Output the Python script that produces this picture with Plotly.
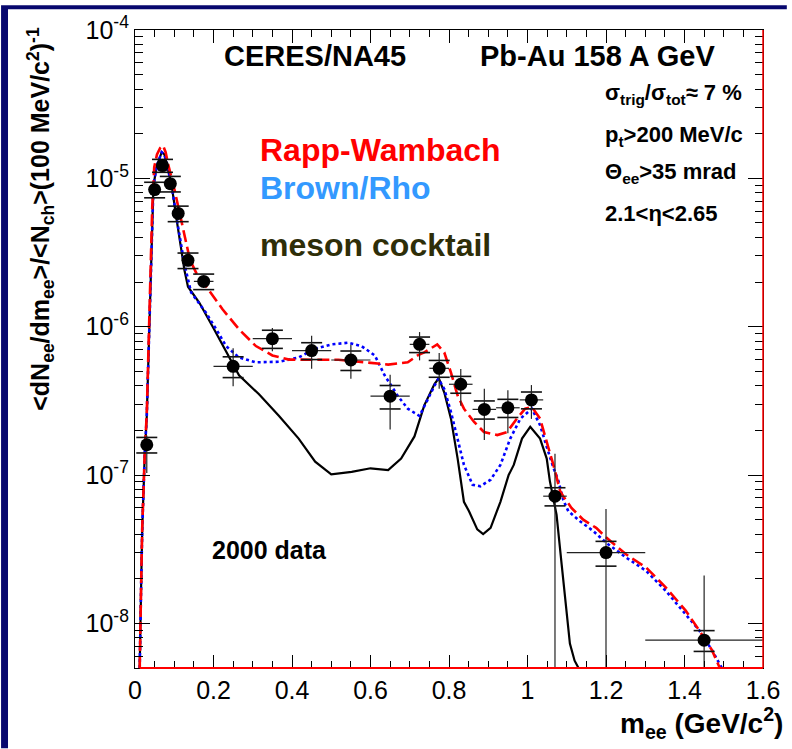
import plotly.graph_objects as go

# ---------------- data ----------------
mass = [0.03, 0.05, 0.07, 0.09, 0.11, 0.135, 0.175, 0.25, 0.35, 0.45, 0.55, 0.65,
        0.725, 0.775, 0.83, 0.89, 0.95, 1.01, 1.07, 1.2, 1.45]
bin_half = [0.01, 0.01, 0.01, 0.01, 0.01, 0.015, 0.025, 0.05, 0.05, 0.05, 0.05, 0.05,
            0.025, 0.025, 0.03, 0.03, 0.03, 0.03, 0.03, 0.1, 0.15]
yield_ee = [1.6e-7, 8.4e-6, 1.22e-5, 9.2e-6, 5.8e-6, 2.8e-6, 2.02e-6, 5.4e-7, 8.3e-7,
            6.9e-7, 5.96e-7, 3.4e-7, 7.6e-7, 5.24e-7, 4.09e-7, 2.77e-7, 2.84e-7,
            3.21e-7, 7.2e-8, 3.0e-8, 7.7e-9]
stat_up = [2.5e-8, 8e-7, 8e-7, 8e-7, 5e-7, 2.5e-7, 1.8e-7, 1.76e-7, 1.5e-7, 1.8e-7,
           1.6e-7, 1.34e-7, 1.6e-7, 1.4e-7, 1.1e-7, 1.04e-7, 8.9e-8, 8.3e-8, 6.7e-8,
           2.9e-8, 1.33e-8]
stat_dn = [5.7e-8, 8e-7, 8e-7, 8e-7, 5e-7, 2.5e-7, 1.8e-7, 1.43e-7, 1.47e-7, 1.7e-7,
           1.5e-7, 1.37e-7, 1.67e-7, 1.43e-7, 1.16e-7, 1.05e-7, 9.3e-8, 8.2e-8, 7.2e-8,
           3.0e-8, 7.7e-9]
sys_frac = [0.12, 0.12, 0.10, 0.12, 0.12, 0.12, 0.12, 0.16, 0.14, 0.13, 0.15, 0.18,
            0.12, 0.13, 0.13, 0.14, 0.14, 0.13, 0.14, 0.19, 0.16]

cocktail_m = [0.012, 0.0134, 0.016, 0.0185, 0.021, 0.025, 0.03, 0.034, 0.038, 0.040,
              0.044, 0.047, 0.055, 0.062, 0.068, 0.075, 0.084, 0.093, 0.105, 0.118,
              0.126, 0.135, 0.164, 0.198, 0.232, 0.265, 0.316, 0.367, 0.417, 0.459,
              0.50, 0.552, 0.60, 0.645, 0.678, 0.712, 0.737, 0.763, 0.774, 0.788,
              0.805, 0.822, 0.838, 0.851, 0.872, 0.887, 0.906, 0.931, 0.952, 0.965,
              0.986, 1.007, 1.032, 1.049, 1.057, 1.074, 1.087, 1.10, 1.108, 1.12, 1.13]
cocktail_y = [5.0e-9, 1.0e-8, 2.04e-8, 4.37e-8, 7.9e-8, 1.41e-7, 2.5e-7, 6.3e-7, 1.26e-6,
              2.5e-6, 6.0e-6, 8.9e-6, 1.2e-5, 1.38e-5, 1.5e-5, 1.45e-5, 1.17e-5, 9.1e-6,
              5.5e-6, 3.3e-6, 2.4e-6, 1.86e-6, 1.45e-6, 1.0e-6, 6.8e-7, 4.7e-7, 3.5e-7,
              2.5e-7, 1.76e-7, 1.23e-7, 1.01e-7, 1.05e-7, 1.11e-7, 1.08e-7, 1.29e-7,
              1.82e-7, 2.95e-7, 4.1e-7, 4.5e-7, 3.6e-7, 2.4e-7, 1.29e-7, 6.6e-8, 5.7e-8,
              4.3e-8, 4.0e-8, 4.4e-8, 6.6e-8, 1.0e-7, 1.17e-7, 1.76e-7, 2.11e-7, 1.76e-7,
              1.29e-7, 9.1e-8, 5.4e-8, 2.5e-8, 1.16e-8, 7.3e-9, 5.6e-9, 5.0e-9]

brown_m = [0.012, 0.0134, 0.016, 0.0185, 0.021, 0.025, 0.03, 0.034, 0.038, 0.040,
           0.044, 0.047, 0.055, 0.062, 0.068, 0.075, 0.084, 0.093, 0.105, 0.118,
           0.126, 0.143, 0.181, 0.207, 0.232, 0.265, 0.308, 0.367, 0.417, 0.459,
           0.501, 0.544, 0.577, 0.611, 0.636, 0.670, 0.695, 0.725, 0.746, 0.763,
           0.773, 0.788, 0.805, 0.822, 0.838, 0.86, 0.88, 0.906, 0.931, 0.956, 0.982,
           1.011, 1.032, 1.049, 1.066, 1.079, 1.091, 1.104, 1.133, 1.167, 1.20, 1.251,
           1.302, 1.352, 1.403, 1.437, 1.47, 1.487, 1.495]
brown_y = [5.0e-9, 1.0e-8, 2.04e-8, 4.37e-8, 7.9e-8, 1.41e-7, 2.5e-7, 6.3e-7, 1.26e-6,
           2.5e-6, 6.0e-6, 8.9e-6, 1.2e-5, 1.38e-5, 1.5e-5, 1.45e-5, 1.17e-5, 9.1e-6,
           5.6e-6, 3.39e-6, 2.63e-6, 1.70e-6, 1.24e-6, 9.6e-7, 7.4e-7, 6.2e-7, 5.75e-7,
           5.8e-7, 6.2e-7, 7.1e-7, 7.6e-7, 7.8e-7, 7.4e-7, 6.4e-7, 4.7e-7, 3.4e-7,
           2.8e-7, 2.5e-7, 3.27e-7, 4.0e-7, 4.47e-7, 3.8e-7, 2.66e-7, 1.76e-7, 1.17e-7,
           8.6e-8, 8.4e-8, 9.3e-8, 1.17e-7, 1.76e-7, 2.4e-7, 2.8e-7, 2.17e-7, 1.55e-7,
           1.12e-7, 9.1e-8, 6.8e-8, 5.7e-8, 4.9e-8, 4.2e-8, 3.5e-8, 2.78e-8, 2.26e-8,
           1.66e-8, 1.16e-8, 9.0e-9, 6.6e-9, 5.5e-9, 5.0e-9]

rapp_m = [0.012, 0.0134, 0.016, 0.0185, 0.021, 0.025, 0.03, 0.034, 0.038, 0.040, 0.044,
          0.049, 0.056, 0.064, 0.0716, 0.078, 0.084, 0.101, 0.118, 0.126, 0.14, 0.16,
          0.181, 0.223, 0.265, 0.308, 0.35, 0.392, 0.451, 0.518, 0.586, 0.645, 0.695,
          0.72, 0.737, 0.77, 0.788, 0.805, 0.822, 0.838, 0.864, 0.889, 0.923, 0.948,
          0.973, 0.994, 1.011, 1.032, 1.049, 1.066, 1.083, 1.091, 1.112, 1.142, 1.175,
          1.20, 1.251, 1.302, 1.352, 1.403, 1.437, 1.47, 1.483, 1.49]
rapp_y = [5.0e-9, 1.0e-8, 2.1e-8, 4.5e-8, 8.0e-8, 1.45e-7, 2.6e-7, 6.6e-7, 1.35e-6,
          2.7e-6, 6.5e-6, 1.19e-5, 1.45e-5, 1.6e-5, 1.66e-5, 1.5e-5, 1.26e-5, 8.3e-6,
          5.2e-6, 4.1e-6, 2.82e-6, 2.19e-6, 1.87e-6, 1.31e-6, 9.6e-7, 7.4e-7, 6.4e-7,
          6.0e-7, 6.0e-7, 5.98e-7, 5.75e-7, 5.55e-7, 5.75e-7, 6.4e-7, 6.7e-7, 7.6e-7,
          6.7e-7, 4.9e-7, 3.43e-7, 2.8e-7, 2.28e-7, 1.95e-7, 1.86e-7, 1.95e-7, 2.4e-7,
          2.8e-7, 2.87e-7, 2.4e-7, 1.67e-7, 1.17e-7, 7.8e-8, 7.2e-8, 6.0e-8, 5.0e-8,
          4.4e-8, 3.8e-8, 2.92e-8, 2.38e-8, 1.75e-8, 1.22e-8, 9.0e-9, 6.6e-9, 5.5e-9,
          5.0e-9]

y_major = [1e-8, 1e-7, 1e-6, 1e-5, 1e-4]
y_major_text = ["10<sup>-8</sup>", "10<sup>-7</sup>", "10<sup>-6</sup>",
                "10<sup>-5</sup>", "10<sup>-4</sup>"]
y_minor = [k * 10.0 ** e for e in range(-9, -4) for k in range(2, 10)
           if k * 10.0 ** e >= 5e-9]

# ---------------- layout geometry ----------------
W, H = 792, 749
L, R, T, B = 135, 768, 25, 668
FONT = "Liberation Sans, Arial, sans-serif"
NAVY = "#07076e"


def fx(p):
    return (p - L) / (R - L)


def fy(p):
    return (B - p) / (B - T)


fig = go.Figure()

# model curves
fig.add_trace(go.Scatter(x=cocktail_m, y=cocktail_y, mode="lines",
                         line=dict(color="black", width=2.2), hoverinfo="skip",
                         name="meson cocktail"))
fig.add_trace(go.Scatter(x=brown_m, y=brown_y, mode="lines",
                         line=dict(color="#0000ff", width=2.6, dash="3px,3px"),
                         hoverinfo="skip", name="Brown/Rho"))
fig.add_trace(go.Scatter(x=rapp_m, y=rapp_y, mode="lines",
                         line=dict(color="#ff0000", width=2.6, dash="12px,5px"),
                         hoverinfo="skip", name="Rapp-Wambach"))

# systematic error marks
sys_x = mass + mass
sys_y = [y * (1 + s) for y, s in zip(yield_ee, sys_frac)] + \
        [y * (1 - s) for y, s in zip(yield_ee, sys_frac)]
fig.add_trace(go.Scatter(x=sys_x, y=sys_y, mode="markers",
                         marker=dict(symbol="line-ew", size=15,
                                     line=dict(color="#111111", width=1.6)),
                         hoverinfo="skip", name="syst"))

# data points with statistical errors and bin widths
fig.add_trace(go.Scatter(
    x=mass, y=yield_ee, mode="markers",
    marker=dict(color="black", size=13, symbol="circle"),
    error_x=dict(type="data", array=bin_half, symmetric=True, width=0,
                 thickness=1.2, color="#222222"),
    error_y=dict(type="data", array=stat_up, arrayminus=stat_dn, symmetric=False,
                 width=0, thickness=1.2, color="#222222"),
    name="2000 data"))

axis_common = dict(showline=True, linecolor="black", linewidth=1.2, mirror="ticks",
                   ticks="inside", tickcolor="black", showgrid=False, zeroline=False,
                   tickfont=dict(family=FONT, size=25, color="black"))

fig.update_xaxes(range=[0, 1.6], dtick=0.2, tick0=0, ticklen=13, tickwidth=1,
                 minor=dict(dtick=0.05, ticks="inside", ticklen=7, tickcolor="black"),
                 **axis_common)
fig.update_yaxes(type="log", range=[-8.301, -4], tickmode="array", tickvals=y_major,
                 ticktext=y_major_text, ticklen=15, tickwidth=1,
                 minor=dict(tickmode="array", tickvals=y_minor, ticks="inside",
                            ticklen=8, tickcolor="black"),
                 **axis_common)

shapes = [
    # navy frame around the white canvas
    dict(type="rect", xref="paper", yref="paper", x0=fx(0), x1=fx(W), y0=fy(0),
         y1=fy(H), fillcolor=NAVY, line=dict(width=0), layer="below"),
    dict(type="rect", xref="paper", yref="paper", x0=fx(7), x1=fx(W + 5), y0=fy(4),
         y1=fy(H + 5), fillcolor="white", line=dict(width=0), layer="below"),
    # model curves resting on the lower and right frame edges
    dict(type="line", xref="x", yref="paper", x0=0.012, x1=1.6, y0=0, y1=0,
         line=dict(color="#ff0000", width=2)),
    dict(type="line", xref="paper", yref="paper", x0=1, x1=1, y0=0, y1=1,
         line=dict(color="#ff0000", width=1.5)),
]


def txt(x, y, text, size, color="black", xanchor="left", yanchor="bottom", angle=0):
    return dict(x=x, y=y, xref="paper", yref="paper", text=text, showarrow=False,
                xanchor=xanchor, yanchor=yanchor, textangle=angle,
                font=dict(family=FONT, size=size, color=color))


annotations = [
    txt(fx(316), fy(69), "<b>CERES/NA45</b>", 29, xanchor="center"),
    txt(fx(601), fy(69), "<b>Pb-Au 158 A GeV</b>", 29, xanchor="center"),
    txt(fx(607), fy(106), "<b>σ<sub>trig</sub>/σ<sub>tot</sub>≈ 7 %</b>", 22),
    txt(fx(607), fy(148), "<b>p<sub>t</sub>>200 MeV/c</b>", 22),
    txt(fx(607), fy(185), "<b>Θ<sub>ee</sub>>35 mrad</b>", 22),
    txt(fx(607), fy(225), "<b>2.1<η<2.65</b>", 22),
    txt(fx(259), fy(166), "<b>Rapp-Wambach</b>", 32, color="#ff0000"),
    txt(fx(259), fy(204), "<b>Brown/Rho</b>", 32, color="#3399ff"),
    txt(fx(259), fy(262), "<b>meson cocktail</b>", 32, color="#2e2e08"),
    txt(fx(211), fy(565), "<b>2000 data</b>", 25),
    txt(fx(790), fy(746), "<b>m<sub>ee</sub> (GeV/c<sup>2</sup>)</b>", 28,
        xanchor="right"),
    txt(fx(40), fy(20),
        "<b>&lt;dN<sub>ee</sub>/dm<sub>ee</sub>&gt;/&lt;N<sub>ch</sub>&gt;"
        "(100 MeV/c<sup>2</sup>)<sup>-1</sup></b>", 25,
        xanchor="center", yanchor="top", angle=-90),
]

fig.update_layout(
    width=W, height=H, margin=dict(l=L, r=W - R, t=T, b=H - B),
    paper_bgcolor="white", plot_bgcolor="white", showlegend=False,
    shapes=shapes, annotations=annotations,
    font=dict(family=FONT, color="black"),
)

fig.write_html("out.html")
